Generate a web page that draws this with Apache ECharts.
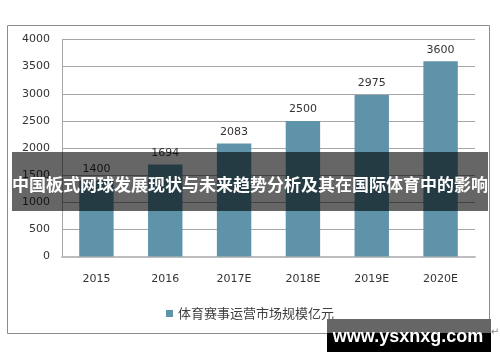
<!DOCTYPE html>
<html><head><meta charset="utf-8">
<script src="https://cdn.jsdelivr.net/npm/echarts@6/dist/echarts.min.js"></script>
<style>html,body{margin:0;padding:0;background:#fff}#c{width:500px;height:362px}</style>
</head><body><div id="c"></div>
<script>
const categories = ['2015','2016','2017E','2018E','2019E','2020E'];
const values = [1400,1694,2083,2500,2975,3600];
const yTicks = [0,500,1000,1500,2000,2500,3000,3500,4000];
const seriesName = '体育赛事运营市场规模亿元';
const bannerText = '中国板式网球发展现状与未来趋势分析及其在国际体育中的影响';
const watermark = 'www.ysxnxg.com';

const chart = echarts.init(document.getElementById('c'), null, {renderer:'canvas'});
const numFont = 'DejaVu Sans';
const cjk = 'Noto Sans CJK SC';
chart.setOption({
  animation:false,
  backgroundColor:'#fff',
  grid:{left:62,right:25,top:39.5,bottom:105.5},
  xAxis:{type:'category',data:categories,
    axisLine:{lineStyle:{color:'#bdbdbd',width:2}},
    axisTick:{show:false},
    axisLabel:{color:'#333',fontFamily:numFont,fontSize:11,margin:17}},
  yAxis:{type:'value',min:yTicks[0],max:yTicks[yTicks.length-1],interval:500,
    axisLine:{show:true,lineStyle:{color:'#a6a6a6'}},
    axisTick:{show:false},
    splitLine:{lineStyle:{color:'#a6a6a6'}},
    axisLabel:{color:'#333',fontFamily:numFont,fontSize:11,margin:12,formatter:v=>String(v)}},
  legend:{bottom:37,left:'center',itemWidth:7,itemHeight:7,icon:'rect',
    textStyle:{color:'#404040',fontFamily:cjk,fontSize:13},itemGap:4},
  series:[{type:'bar',name:seriesName,data:values,barWidth:'50%',
    itemStyle:{color:'#5e93aa'},
    label:{show:true,position:'top',color:'#333',fontFamily:numFont,fontSize:11,distance:6}}],
  graphic:[
    {type:'rect',z:-10,shape:{x:7.5,y:25.5,width:482,height:308},style:{fill:null,stroke:'#8c8c8c',lineWidth:1}},
    {type:'rect',z:100,shape:{x:12,y:152,width:476,height:59},style:{fill:'rgba(0,0,0,0.6)'}},
    {type:'text',z:101,x:250,y:185,style:{text:bannerText,fill:'#fff',fontFamily:cjk,fontWeight:'bold',fontSize:17,align:'center',verticalAlign:'middle'}},
    {type:'rect',z:100,shape:{x:327,y:319,width:164,height:14},style:{fill:'#666'}},
    {type:'rect',z:100,shape:{x:327,y:333,width:164,height:19},style:{fill:'#000'}},
    {type:'text',z:101,x:408,y:337,style:{text:watermark,fill:'#fff',fontFamily:'Liberation Sans',fontWeight:'bold',fontSize:18,align:'center',verticalAlign:'middle'}},
    {type:'text',z:101,x:495,y:332,style:{text:'↵',fill:'#888',fontFamily:'DejaVu Sans',fontSize:10,align:'center',verticalAlign:'middle'}}
  ]
});
</script></body></html>
